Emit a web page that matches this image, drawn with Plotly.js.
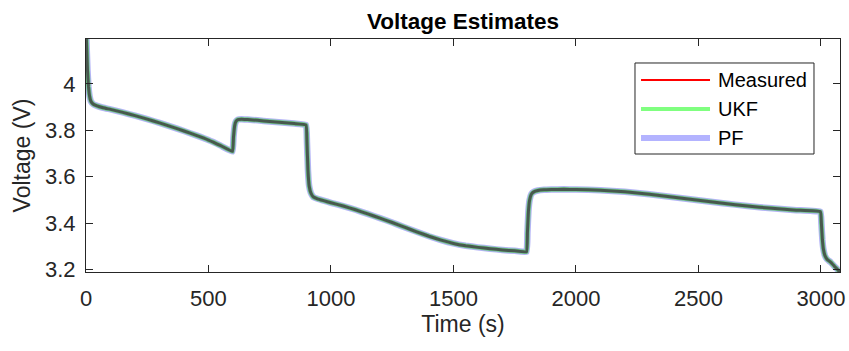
<!DOCTYPE html>
<html>
<head>
<meta charset="utf-8">
<script src="https://cdn.plot.ly/plotly-3.0.1.min.js"></script>
<style>html,body{margin:0;padding:0;background:#fff;}#chart{width:849px;height:351px;}</style>
</head>
<body>
<div id="chart"></div>
<script>
const time = [0, 3, 6, 10, 15, 20, 30, 45, 70, 100, 150, 200, 250, 300, 350, 400, 450, 500, 550, 598, 602, 607, 612, 620, 635, 660, 700, 750, 800, 850, 898, 902, 906, 911, 918, 928, 945, 970, 1000, 1050, 1100, 1150, 1200, 1250, 1300, 1350, 1400, 1450, 1500, 1550, 1600, 1650, 1700, 1750, 1798, 1802, 1806, 1811, 1818, 1828, 1845, 1870, 1900, 1950, 2000, 2100, 2200, 2300, 2400, 2500, 2600, 2700, 2800, 2900, 2998, 3002, 3006, 3010, 3016, 3025, 3040, 3055, 3070, 3080];

const measured = [4.25, 4.15, 4.06, 3.99, 3.945, 3.925, 3.912, 3.905, 3.897, 3.89, 3.877, 3.863, 3.848, 3.832, 3.815, 3.797, 3.778, 3.758, 3.734, 3.709, 3.77, 3.82, 3.838, 3.846, 3.848, 3.846, 3.843, 3.838, 3.834, 3.829, 3.823, 3.75, 3.63, 3.56, 3.53, 3.513, 3.505, 3.497, 3.488, 3.474, 3.458, 3.44, 3.422, 3.403, 3.383, 3.363, 3.344, 3.327, 3.313, 3.303, 3.296, 3.29, 3.285, 3.281, 3.277, 3.36, 3.45, 3.5, 3.525, 3.535, 3.541, 3.544, 3.545, 3.546, 3.545, 3.542, 3.535, 3.525, 3.512, 3.499, 3.486, 3.474, 3.464, 3.456, 3.449, 3.40, 3.33, 3.29, 3.262, 3.245, 3.232, 3.215, 3.198, 3.188];

const ukf = [4.25, 4.15, 4.06, 3.99, 3.945, 3.925, 3.912, 3.905, 3.897, 3.89, 3.877, 3.863, 3.848, 3.832, 3.815, 3.797, 3.778, 3.758, 3.734, 3.709, 3.77, 3.82, 3.838, 3.846, 3.848, 3.846, 3.843, 3.838, 3.834, 3.829, 3.823, 3.75, 3.63, 3.56, 3.53, 3.513, 3.505, 3.497, 3.488, 3.474, 3.458, 3.44, 3.422, 3.403, 3.383, 3.363, 3.344, 3.327, 3.313, 3.303, 3.296, 3.29, 3.285, 3.281, 3.277, 3.36, 3.45, 3.5, 3.525, 3.535, 3.541, 3.544, 3.545, 3.546, 3.545, 3.542, 3.535, 3.525, 3.512, 3.499, 3.486, 3.474, 3.464, 3.456, 3.449, 3.40, 3.33, 3.29, 3.262, 3.245, 3.232, 3.215, 3.198, 3.188];

const pf = [4.25, 4.15, 4.06, 3.99, 3.945, 3.925, 3.912, 3.905, 3.897, 3.89, 3.877, 3.863, 3.848, 3.832, 3.815, 3.797, 3.778, 3.758, 3.734, 3.709, 3.77, 3.82, 3.838, 3.846, 3.848, 3.846, 3.843, 3.838, 3.834, 3.829, 3.823, 3.75, 3.63, 3.56, 3.53, 3.513, 3.505, 3.497, 3.488, 3.474, 3.458, 3.44, 3.422, 3.403, 3.383, 3.363, 3.344, 3.327, 3.313, 3.303, 3.296, 3.29, 3.285, 3.281, 3.277, 3.36, 3.45, 3.5, 3.525, 3.535, 3.541, 3.544, 3.545, 3.546, 3.545, 3.542, 3.535, 3.525, 3.512, 3.499, 3.486, 3.474, 3.464, 3.456, 3.449, 3.40, 3.33, 3.29, 3.262, 3.245, 3.232, 3.215, 3.198, 3.188];

const seriesNames = ['Measured', 'UKF', 'PF'];
const legendColors = ['#ff0000', '#80ff80', '#b3b3ff'];
const legendWidths = [2, 4, 6];
const xTicks = [0, 500, 1000, 1500, 2000, 2500, 3000];
const xTickLabels = ['0', '500', '1000', '1500', '2000', '2500', '3000'];
const yTicks = [3.2, 3.4, 3.6, 3.8, 4.0];
const yTickLabels = ['3.2', '3.4', '3.6', '3.8', '4'];

const FONT = 'Liberation Sans, Arial, Helvetica, sans-serif';
const INK = '#262626';

const traces = [
  {x: time, y: pf, mode: 'lines', name: seriesNames[2], showlegend: false, hoverinfo: 'skip',
   line: {color: '#b4b4f6', width: 6.5, shape: 'spline', smoothing: 0.3}},
  {x: time, y: ukf, mode: 'lines', name: seriesNames[1], showlegend: false, hoverinfo: 'skip',
   line: {color: '#72c98c', width: 4.5, shape: 'spline', smoothing: 0.3}},
  {x: time, y: measured, mode: 'lines', name: seriesNames[0], showlegend: false,
   line: {color: '#48584e', width: 3, shape: 'spline', smoothing: 0.3}}
];

// legend drawn as a boxed key (paper coordinates)
const legX0 = 0.7281, legX1 = 0.9655, legY0 = 0.5064, legY1 = 0.897;
const keyX0 = 0.7361, keyX1 = 0.8276, textX = 0.8355;
const rowY = [0.824, 0.6996, 0.5751];

const shapes = [{type: 'rect', xref: 'paper', yref: 'paper', x0: legX0, x1: legX1, y0: legY0, y1: legY1,
                 line: {color: INK, width: 1}, fillcolor: '#ffffff', layer: 'above'}];
const annotations = [];
seriesNames.forEach((n, i) => {
  shapes.push({type: 'line', xref: 'paper', yref: 'paper', x0: keyX0, x1: keyX1, y0: rowY[i], y1: rowY[i],
               line: {color: legendColors[i], width: legendWidths[i]}, layer: 'above'});
  annotations.push({text: n, xref: 'paper', yref: 'paper', x: textX, y: rowY[i], xanchor: 'left', yanchor: 'middle',
                    showarrow: false, font: {family: FONT, size: 20, color: '#000'}});
});

const axisCommon = {
  showline: true, linecolor: INK, linewidth: 1, mirror: 'ticks',
  ticks: 'inside', ticklen: 7, tickcolor: INK, tickwidth: 1,
  showgrid: false, zeroline: false,
  tickfont: {family: FONT, size: 22, color: INK}
};

const layout = {
  width: 849, height: 351,
  margin: {l: 86, r: 9, t: 39, b: 79},
  paper_bgcolor: '#ffffff', plot_bgcolor: '#ffffff',
  title: {text: '<b>Voltage Estimates</b>', font: {family: FONT, size: 22.5, color: '#000'},
          x: 0.5454, xanchor: 'center', y: 0.94, yanchor: 'middle'},
  xaxis: Object.assign({}, axisCommon, {
    range: [0, 3078], tickvals: xTicks, ticktext: xTickLabels,
    ticklabelstandoff: 7,
    title: {text: 'Time (s)', font: {family: FONT, size: 23, color: INK}, standoff: 4}
  }),
  yaxis: Object.assign({}, axisCommon, {
    range: [3.19, 4.193], tickvals: yTicks, ticktext: yTickLabels,
    ticklabelstandoff: 5,
    title: {text: 'Voltage (V)', font: {family: FONT, size: 23, color: INK}, standoff: 7}
  }),
  shapes: shapes,
  annotations: annotations,
  showlegend: false
};

Plotly.newPlot('chart', traces, layout, {staticPlot: true, displayModeBar: false});
</script>
</body>
</html>
